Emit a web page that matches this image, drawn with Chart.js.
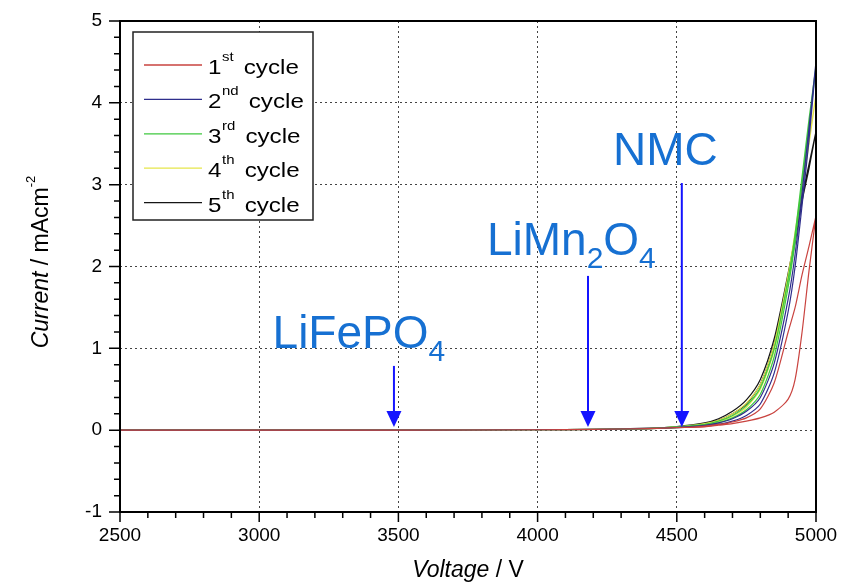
<!DOCTYPE html>
<html lang="en">
	<head>
		<meta charset="UTF-8" />
		<title>CV cycles</title>
		<style>
			html, body { margin: 0; padding: 0; background: #fff; }
			.box { width: 842px; height: 583px; }
		</style>
	</head>
	<body>
		<div class="box"><canvas id="cv"></canvas></div>
		<script src="https://cdn.jsdelivr.net/npm/chart.js@4"></script>
		<script>
			// voltage grid (V) shared by all branches
			const voltage = [2500, 3000, 3500, 4000, 4200, 4400, 4500, 4600, 4650, 4700, 4750, 4800, 4850, 4900, 4925, 4950, 4975, 5000];

			// current (mA cm-2), forward and reverse branch of each cycle
			const cycle1Fwd = [0, 0, 0, 0.005, 0.01, 0.02, 0.03, 0.04, 0.06, 0.08, 0.11, 0.15, 0.22, 0.38, 0.62, 1.2, 1.95, 2.62];
			const cycle1Rev = [0, 0, 0, 0.005, 0.01, 0.02, 0.03, 0.05, 0.07, 0.1, 0.15, 0.26, 0.58, 1.2, 1.5, 1.9, 2.25, 2.62];
			const cycle2Fwd = [0, 0, 0, 0.005, 0.01, 0.02, 0.03, 0.05, 0.07, 0.11, 0.18, 0.32, 0.7, 1.45, 2.0, 2.75, 3.55, 4.5];
			const cycle2Rev = [0, 0, 0, 0.005, 0.01, 0.02, 0.035, 0.06, 0.09, 0.14, 0.23, 0.4, 0.82, 1.6, 2.15, 2.9, 3.7, 4.5];
			const cycle3Fwd = [0, 0, 0, 0.005, 0.01, 0.02, 0.03, 0.06, 0.09, 0.15, 0.25, 0.44, 0.9, 1.75, 2.3, 3.0, 3.7, 4.45];
			const cycle3Rev = [0, 0, 0, 0.005, 0.01, 0.02, 0.04, 0.07, 0.11, 0.18, 0.3, 0.52, 1.0, 1.85, 2.4, 3.1, 3.8, 4.45];
			const cycle4Fwd = [0, 0, 0, 0.005, 0.01, 0.02, 0.035, 0.07, 0.1, 0.17, 0.28, 0.5, 0.98, 1.82, 2.35, 2.95, 3.5, 4.1];
			const cycle4Rev = [0, 0, 0, 0.005, 0.01, 0.02, 0.04, 0.08, 0.12, 0.2, 0.33, 0.56, 1.05, 1.9, 2.42, 3.0, 3.55, 4.1];
			const cycle5Fwd = [0, 0, 0, 0.005, 0.01, 0.02, 0.04, 0.08, 0.12, 0.2, 0.32, 0.56, 1.05, 1.85, 2.3, 2.8, 3.2, 3.65];
			const cycle5Rev = [0, 0, 0, 0.005, 0.01, 0.025, 0.045, 0.09, 0.14, 0.23, 0.37, 0.62, 1.12, 1.92, 2.36, 2.85, 3.25, 3.65];

			const cycleNums = ["1", "2", "3", "4", "5"];
			const cycleSup = ["st", "nd", "rd", "th", "th"];
			const cycleColors = ["#c9433f", "#2e2e8c", "#3fc83f", "#e6e64a", "#151515"];

			// onset markers: label parts (text, isSubscript), arrow voltage, arrow top current, label anchor
			const markerLabels = [
				[["LiFePO", 0], ["4", 1]],
				[["LiMn", 0], ["2", 1], ["O", 0], ["4", 1]],
				[["NMC", 0]]
			];
			const markerV = [3484, 4181, 4518];
			const markerTop = [0.785, 1.885, 3.02];
			const markerTip = 0.04;
			const labelV = [3048, 3818, 4271];
			const labelI = [1.01, 2.14, 3.24];

			const branches = [
				[cycle1Fwd, cycle1Rev],
				[cycle2Fwd, cycle2Rev],
				[cycle3Fwd, cycle3Rev],
				[cycle4Fwd, cycle4Rev],
				[cycle5Fwd, cycle5Rev]
			];

			const datasets = branches.map(([fwd, rev], k) => {
				const pts = voltage.map((v, i) => ({ x: v, y: fwd[i] }));
				for (let i = voltage.length - 1; i >= 0; i--) pts.push({ x: voltage[i], y: rev[i] });
				return {
					label: cycleNums[k] + cycleSup[k] + " cycle",
					data: pts,
					borderColor: cycleColors[k],
					borderWidth: 1.2,
					pointRadius: 0,
					showLine: true,
					tension: 0.25,
					fill: false
				};
			});

			const FONT = "'Liberation Sans', Arial, sans-serif";

			const decor = {
				id: "decor",
				afterDraw(chart) {
					const ctx = chart.ctx;
					const a = chart.chartArea;
					const xs = chart.scales.x;
					const ys = chart.scales.y;
					ctx.save();

					// frame
					ctx.strokeStyle = "#000";
					ctx.lineWidth = 2;
					ctx.strokeRect(a.left, a.top, a.right - a.left, a.bottom - a.top);

					// ticks
					ctx.lineWidth = 1.5;
					ctx.beginPath();
					for (let v = xs.min; v <= xs.max + 1e-6; v += 100) {
						const px = xs.getPixelForValue(v);
						const len = Math.round(v) % 500 === 0 ? 10 : 6;
						ctx.moveTo(px, a.bottom);
						ctx.lineTo(px, a.bottom + len);
					}
					for (let k = 0; k <= 30; k++) {
						const v = ys.min + k * 0.2;
						const py = ys.getPixelForValue(v);
						const len = k % 5 === 0 ? 11 : 6;
						ctx.moveTo(a.left, py);
						ctx.lineTo(a.left - len, py);
					}
					ctx.stroke();

					// marker arrows and labels
					markerV.forEach((v, i) => {
						const px = xs.getPixelForValue(v);
						const top = ys.getPixelForValue(markerTop[i]);
						const tip = ys.getPixelForValue(markerTip);
						ctx.strokeStyle = "#1414ff";
						ctx.fillStyle = "#1414ff";
						ctx.lineWidth = 2;
						ctx.beginPath();
						ctx.moveTo(px, top);
						ctx.lineTo(px, tip - 14);
						ctx.stroke();
						ctx.beginPath();
						ctx.moveTo(px - 7.5, tip - 16);
						ctx.lineTo(px + 7.5, tip - 16);
						ctx.lineTo(px, tip);
						ctx.closePath();
						ctx.fill();

						let tx = xs.getPixelForValue(labelV[i]);
						const ty = ys.getPixelForValue(labelI[i]);
						ctx.fillStyle = "#1670d2";
						ctx.textBaseline = "alphabetic";
						ctx.textAlign = "left";
						markerLabels[i].forEach(([t, sub]) => {
							ctx.font = (sub ? "30px " : "46px ") + FONT;
							ctx.fillText(t, tx, sub ? ty + 13 : ty);
							tx += ctx.measureText(t).width;
						});
					});

					// legend
					const lx = 133, ly = 32, lw = 180, lh = 188;
					ctx.fillStyle = "#fff";
					ctx.fillRect(lx, ly, lw, lh);
					ctx.strokeStyle = "#222";
					ctx.lineWidth = 1.5;
					ctx.strokeRect(lx, ly, lw, lh);
					cycleNums.forEach((n, i) => {
						const y = 65 + i * 34.4;
						ctx.strokeStyle = cycleColors[i];
						ctx.lineWidth = 1.3;
						ctx.beginPath();
						ctx.moveTo(144, y);
						ctx.lineTo(202, y);
						ctx.stroke();
						ctx.save();
						ctx.translate(208, y + 9);
						ctx.scale(1.15, 1);
						ctx.fillStyle = "#000";
						ctx.textAlign = "left";
						ctx.font = "21px " + FONT;
						ctx.fillText(n, 0, 0);
						let w = ctx.measureText(n).width + 0.5;
						ctx.font = "13px " + FONT;
						ctx.fillText(cycleSup[i], w, -13);
						w += ctx.measureText(cycleSup[i]).width + 3;
						ctx.font = "21px " + FONT;
						ctx.fillText(" cycle", w, 0);
						ctx.restore();
					});

					// axis titles
					ctx.fillStyle = "#000";
					ctx.textAlign = "left";
					ctx.textBaseline = "alphabetic";
					const drawParts = (parts, cx, cy) => {
						let total = 0;
						parts.forEach(p => { ctx.font = p[1]; total += ctx.measureText(p[0]).width; });
						let x = cx - total / 2;
						parts.forEach(p => {
							ctx.font = p[1];
							ctx.fillText(p[0], x, cy + p[2]);
							x += ctx.measureText(p[0]).width;
						});
					};
					drawParts([["Voltage", "italic 23px " + FONT, 0], [" / V", "23px " + FONT, 0]], 468, 577);
					ctx.save();
					ctx.translate(48, 262);
					ctx.rotate(-Math.PI / 2);
					drawParts([
						["Current", "italic 23px " + FONT, 0],
						[" / mAcm", "23px " + FONT, 0],
						["-2", "13px " + FONT, -13]
					], 0, 0);
					ctx.restore();

					ctx.restore();
				}
			};

			new Chart(document.getElementById("cv"), {
				type: "scatter",
				data: { datasets },
				options: {
					responsive: true,
					maintainAspectRatio: false,
					animation: false,
					layout: { padding: { top: 21, right: 26, left: 0, bottom: 0 } },
					plugins: {
						legend: { display: false },
						tooltip: { enabled: false }
					},
					scales: {
						x: {
							type: "linear",
							min: 2500,
							max: 5000,
							afterFit: s => { s.height = 71; s.paddingLeft = 0; s.paddingRight = 0; },
							ticks: {
								stepSize: 500,
								padding: 12,
								color: "#000",
								font: { family: FONT, size: 19 },
								maxRotation: 0,
								callback: v => String(v)
							},
							grid: { color: "#444", lineWidth: 1, drawTicks: false },
							border: { display: false, dash: [2, 3] }
						},
						y: {
							type: "linear",
							min: -1,
							max: 5,
							afterFit: s => { s.width = 120; s.paddingTop = 0; s.paddingBottom = 0; },
							ticks: {
								stepSize: 1,
								padding: 18,
								color: "#000",
								font: { family: FONT, size: 19 },
								callback: v => String(v)
							},
							grid: { color: "#444", lineWidth: 1, drawTicks: false },
							border: { display: false, dash: [2, 3] }
						}
					}
				},
				plugins: [decor]
			});
		</script>
	</body>
</html>
